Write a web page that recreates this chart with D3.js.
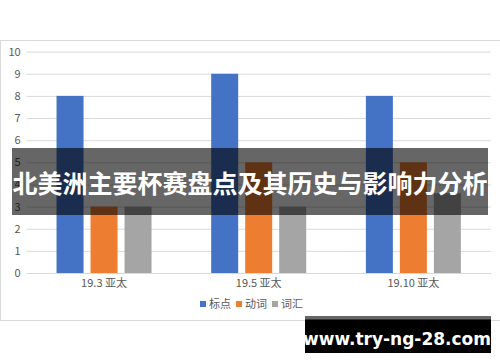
<!DOCTYPE html>
<html><head><meta charset="utf-8">
<script src="https://cdn.jsdelivr.net/npm/d3@7"></script>
<style>html,body{margin:0;padding:0;background:#fff;}svg{display:block;}</style>
</head><body>
<svg id="c" width="500" height="362"></svg>
<script>
const categories = ["19.3 亚太", "19.5 亚太", "19.10 亚太"];
const seriesNames = ["标点", "动词", "词汇"];
const seriesBiaodian = [8, 9, 8];
const seriesDongci = [3, 5, 5];
const seriesCihui = [3, 3, 3.6];
const yTicks = [0,1,2,3,4,5,6,7,8,9,10];
const colors = ["#4472C4", "#ED7D31", "#A5A5A5"];
const titleText = "北美洲主要杯赛盘点及其历史与影响力分析";
const watermark = "www.try-ng-28.com";

(function(){
const values = [seriesBiaodian, seriesDongci, seriesCihui];
const svg = d3.select("#c");
const font = "'Noto Sans CJK SC','Noto Sans',sans-serif";

svg.append("rect").attr("x",0.5).attr("y",40.5).attr("width",520).attr("height",280)
  .attr("fill","#fff").attr("stroke","#d9d9d9");

const pLeft = 26.7, pRight = 490.7, pTop = 51.6, pBottom = 273;
const y = d3.scaleLinear().domain([0,10]).range([pBottom, pTop]);
const x0 = d3.scaleBand().domain(categories).range([pLeft, pRight]).padding(0);
const x1 = d3.scaleBand().domain(seriesNames).range([0, 95]).paddingInner(7/34).paddingOuter(0);
const groupOff = (x0.bandwidth() - 95) / 2;

const yAxis = d3.axisLeft(y).tickValues(yTicks).tickSize(-(pRight-pLeft)).tickPadding(5);
const ga = svg.append("g").attr("transform",`translate(${pLeft},0)`).call(yAxis);
ga.select(".domain").remove();
ga.selectAll(".tick line").attr("stroke","#d9d9d9").attr("stroke-width",1);
ga.selectAll(".tick text").attr("fill","#595959").attr("font-size","11px").attr("font-family",font).attr("dx",-1);

categories.forEach((c,ci)=>{
  seriesNames.forEach((s,si)=>{
    svg.append("rect")
      .attr("x", x0(c) + groupOff + x1(s))
      .attr("y", y(values[si][ci]))
      .attr("width", x1.bandwidth())
      .attr("height", y(0) - y(values[si][ci]))
      .attr("fill", colors[si]);
  });
});

const xAxis = d3.axisBottom(x0).tickSize(0).tickPadding(6);
const gx = svg.append("g").attr("transform",`translate(0,${pBottom})`).call(xAxis);
gx.select(".domain").attr("stroke","#d9d9d9");
gx.selectAll(".tick text").attr("fill","#595959").attr("font-size","11px").attr("font-family",font);

const legendX = [200, 236, 272];
const lg = svg.append("g");
seriesNames.forEach((s,i)=>{
  lg.append("rect").attr("x",legendX[i]).attr("y",301).attr("width",6).attr("height",6).attr("fill",colors[i]);
  lg.append("text").attr("x",legendX[i]+9).attr("y",304).attr("dy","0.35em")
    .attr("font-size","11px").attr("fill","#595959").attr("font-family",font).text(s);
});

svg.append("rect").attr("x",12).attr("y",148).attr("width",476).attr("height",67)
  .attr("fill","rgba(0,0,0,0.6)");
svg.append("text").attr("x",250).attr("y",184).attr("dy","0.35em").attr("text-anchor","middle")
  .attr("font-size","25px").attr("font-weight","bold").attr("fill","#fff").attr("font-family",font)
  .text(titleText);

svg.append("rect").attr("x",305).attr("y",316).attr("width",186).attr("height",37).attr("fill","#000");
svg.append("rect").attr("x",305).attr("y",316).attr("width",186).attr("height",3.5).attr("fill","#666");
svg.append("text").attr("x",397).attr("y",339).attr("dy","0.35em").attr("text-anchor","middle")
  .attr("font-size","17px").attr("font-weight","bold").attr("fill","#fff")
  .attr("font-family","'DejaVu Sans','Noto Sans',sans-serif").text(watermark);
})();
</script>
</body></html>
